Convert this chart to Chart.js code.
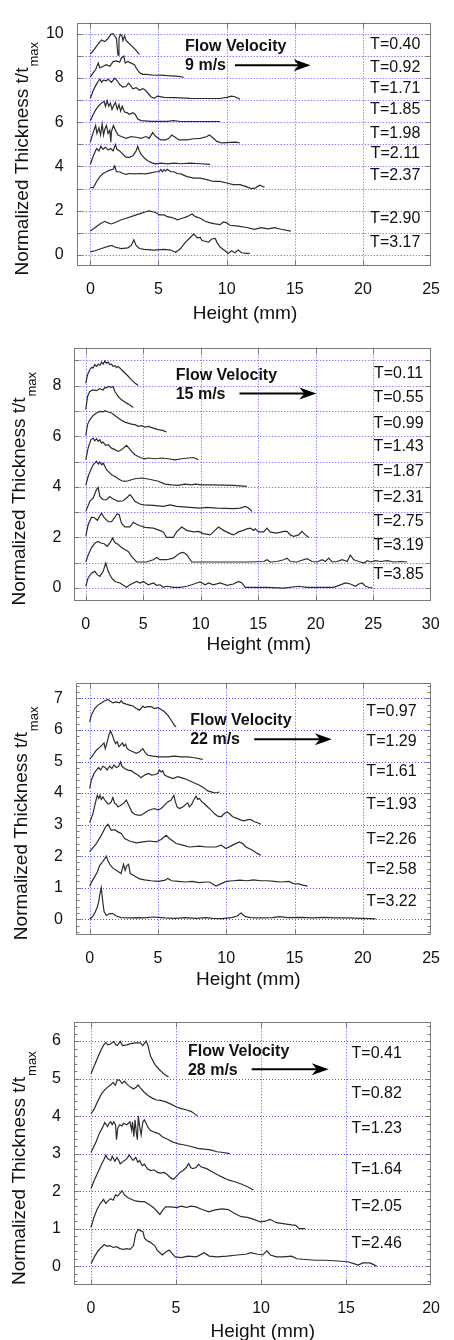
<!DOCTYPE html>
<html><head><meta charset="utf-8">
<script src="https://cdn.jsdelivr.net/npm/chart.js@4.4.1/dist/chart.umd.min.js"></script>
<style>
html,body{margin:0;padding:0;background:#fff;}
body{width:454px;height:1340px;position:relative;overflow:hidden;}
canvas{position:absolute;left:0;}
</style></head><body>
<canvas id="c1"></canvas><canvas id="c2"></canvas><canvas id="c3"></canvas><canvas id="c4"></canvas>
<script>
// ---------- Panel 1: 9 m/s ----------
const v9Speed = '9 m/s';
const v9XTicks = [0,5,10,15,20,25];
const v9YTicks = [0,2,4,6,8,10];
const v9Labels = ['T=0.40','T=0.92','T=1.71','T=1.85','T=1.98','T=2.11','T=2.37','T=2.90','T=3.17'];
const v9_T040 = [[0,9.08],[0.3,9.3],[0.58,9.54],[0.82,9.71],[1.06,9.64],[1.3,9.78],[1.5,9.97],[1.67,10.0],[1.79,9.9],[1.91,9.78],[2.03,9.03],[2.1,9.75],[2.2,9.97],[2.32,9.9],[2.39,9.68],[2.51,9.9],[2.63,9.68],[2.75,9.61],[3.0,9.47],[3.24,9.32],[3.6,9.06]];
const v9_T092 = [[0,8.05],[0.22,8.24],[0.39,8.38],[0.58,8.67],[0.7,8.45],[0.94,8.53],[1.18,8.6],[1.43,8.53],[1.67,8.74],[1.91,8.77],[2.15,8.71],[2.27,8.89],[2.46,8.99],[2.56,8.67],[2.75,8.74],[3.0,8.67],[3.24,8.6],[3.36,8.45],[3.6,8.24],[3.84,8.16],[4.08,8.16],[4.69,8.12],[5.2,8.13],[5.65,8.1],[6.3,8.08],[6.86,8.03]];
const v9_T171 = [[0,7.08],[0.22,7.44],[0.46,7.73],[0.58,7.85],[0.7,7.95],[0.82,7.8],[0.94,7.9],[1.18,7.87],[1.3,7.95],[1.55,7.8],[1.79,7.99],[1.98,7.87],[2.15,7.7],[2.39,7.59],[2.63,7.62],[2.8,7.76],[2.95,7.66],[3.12,7.51],[3.36,7.56],[3.6,7.44],[3.84,7.51],[4.01,7.47],[4.2,7.33],[4.44,7.15],[4.69,7.08],[4.93,7.18],[5.41,7.12],[6.14,7.11],[7.34,7.08],[8.55,7.07],[9.52,7.07],[10.0,7.12],[10.36,7.18],[10.6,7.15],[10.97,7.04]];
const v9_T185 = [[0,6.07],[0.34,6.5],[0.58,6.72],[0.82,6.86],[1.01,6.94],[1.11,6.72],[1.23,6.97],[1.35,6.72],[1.47,6.86],[1.59,6.58],[1.74,6.79],[1.84,6.89],[1.98,6.58],[2.1,6.79],[2.22,6.5],[2.34,6.72],[2.51,6.46],[2.68,6.43],[2.87,6.36],[3.12,6.43],[3.29,6.36],[3.48,6.14],[3.72,6.07],[4.44,6.04],[5.65,6.04],[6.1,6.07],[6.62,6.03],[7.58,6.03],[8.55,6.03],[9.52,6.03]];
const v9_T198 = [[0,5.1],[0.22,5.56],[0.39,5.85],[0.48,5.49],[0.63,5.74],[0.75,5.42],[0.87,5.92],[0.97,5.42],[1.06,5.68],[1.18,5.85],[1.3,5.49],[1.43,5.64],[1.5,5.1],[1.55,5.56],[1.69,5.85],[1.84,5.64],[2.03,5.42],[2.27,5.35],[2.63,5.27],[3.0,5.35],[3.36,5.32],[3.72,5.27],[4.08,5.35],[4.32,5.27],[4.57,5.53],[4.81,5.35],[5.17,5.2],[5.53,5.2],[5.77,5.27],[5.97,5.42],[6.14,5.35],[6.5,5.2],[7.1,5.2],[7.58,5.25],[8.07,5.27],[8.55,5.35],[8.74,5.42],[9.03,5.27],[9.28,5.13],[9.64,5.06],[10.24,5.09],[10.72,5.1],[10.97,5.06]];
const v9_T211 = [[0,4.09],[0.22,4.48],[0.46,4.81],[0.63,4.7],[0.77,4.91],[0.94,4.77],[1.11,4.87],[1.3,4.74],[1.5,4.81],[1.67,4.7],[1.84,4.99],[1.96,4.77],[2.15,4.7],[2.39,4.55],[2.63,4.41],[2.87,4.41],[3.12,4.48],[3.36,4.7],[3.48,4.91],[3.6,4.7],[3.72,4.55],[3.96,4.38],[4.2,4.26],[4.57,4.15],[4.81,4.12],[5.17,4.15],[5.65,4.12],[6.14,4.15],[6.62,4.12],[7.34,4.15],[8.07,4.12],[8.79,4.09]];
const v9_T237 = [[0,3.06],[0.22,3.03],[0.46,3.32],[0.7,3.54],[0.94,3.68],[1.18,3.76],[1.43,3.83],[1.67,3.87],[1.79,4.02],[1.91,3.76],[2.15,3.76],[2.39,3.68],[2.63,3.64],[2.87,3.68],[3.24,3.66],[3.72,3.68],[4.08,3.66],[4.44,3.71],[4.81,3.76],[5.05,3.76],[5.17,3.86],[5.29,3.76],[5.41,3.86],[5.53,3.8],[5.65,3.87],[5.89,3.76],[6.14,3.76],[6.38,3.68],[6.62,3.66],[7.1,3.54],[7.58,3.47],[8.07,3.47],[8.55,3.4],[9.03,3.32],[9.52,3.32],[10.0,3.25],[10.48,3.18],[10.97,3.18],[11.33,3.11],[11.81,3.0],[12.1,3.02],[12.42,3.15],[12.78,3.06]];
const v9_T290 = [[0,1.08],[0.34,1.23],[0.7,1.4],[1.06,1.52],[1.3,1.45],[1.55,1.4],[1.91,1.49],[2.27,1.59],[2.63,1.66],[3.0,1.73],[3.36,1.81],[3.72,1.88],[4.08,1.95],[4.32,1.99],[4.57,1.95],[4.81,1.92],[5.05,1.81],[5.41,1.81],[5.65,1.73],[6.01,1.69],[6.38,1.59],[6.74,1.66],[7.1,1.73],[7.46,1.85],[7.71,1.73],[8.07,1.66],[8.43,1.52],[8.79,1.45],[9.16,1.4],[9.52,1.37],[9.76,1.49],[10.0,1.45],[10.24,1.34],[10.85,1.3],[11.57,1.23],[12.05,1.16],[12.54,1.23],[13.02,1.18],[13.5,1.23],[13.99,1.16],[14.71,1.08]];
const v9_T317 = [[0,0.14],[0.34,0.19],[0.82,0.29],[1.3,0.39],[1.59,0.43],[1.79,0.36],[2.27,0.29],[2.75,0.32],[3.0,0.43],[3.12,0.58],[3.19,0.68],[3.36,0.43],[3.6,0.29],[3.96,0.25],[4.69,0.22],[5.41,0.25],[5.89,0.22],[6.26,0.12],[6.62,0.29],[6.98,0.58],[7.34,0.79],[7.58,0.94],[7.71,0.87],[7.83,0.77],[8.07,0.79],[8.19,0.65],[8.43,0.62],[8.67,0.58],[8.91,0.72],[9.16,0.75],[9.28,0.58],[9.52,0.36],[9.88,0.19],[10.12,0.07],[10.36,0.19],[10.6,0.1],[10.85,0.22],[11.09,0.1],[11.45,0.07],[11.69,0.07]];
const v9Series = [v9_T040,v9_T092,v9_T171,v9_T185,v9_T198,v9_T211,v9_T237,v9_T290,v9_T317];

// ---------- Panel 2: 15 m/s ----------
const v15Speed = '15 m/s';
const v15XTicks = [0,5,10,15,20,25,30];
const v15YTicks = [0,2,4,6,8];
const v15Labels = ['T=0.11','T=0.55','T=0.99','T=1.43','T=1.87','T=2.31','T=2.75','T=3.19','T=3.85'];
const v15_T011 = [[0,8.1],[0.15,8.43],[0.35,8.63],[0.49,8.72],[0.64,8.7],[0.78,8.83],[0.93,8.76],[1.08,8.85],[1.22,8.8],[1.37,8.93],[1.51,8.85],[1.66,8.98],[1.8,8.89],[1.95,8.93],[2.09,8.83],[2.24,8.85],[2.38,8.76],[2.53,8.8],[2.67,8.72],[2.82,8.76],[3.11,8.63],[3.4,8.5],[3.69,8.37],[3.98,8.23],[4.27,8.1],[4.56,8.01]];
const v15_T055 = [[0,7.05],[0.15,7.57],[0.35,7.77],[0.64,7.83],[0.93,7.8],[1.22,7.88],[1.51,7.83],[1.66,7.93],[1.8,7.91],[1.95,7.97],[2.24,7.93],[2.38,7.97],[2.53,7.77],[2.82,7.57],[3.11,7.44],[3.4,7.35],[3.69,7.27],[4.13,7.14]];
const v15_T099 = [[0,6.04],[0.15,6.46],[0.35,6.65],[0.64,6.82],[0.93,6.92],[1.22,6.98],[1.51,6.96],[1.66,7.01],[1.95,6.96],[2.24,6.92],[2.53,6.82],[2.82,6.72],[3.11,6.63],[3.4,6.56],[3.69,6.52],[3.98,6.48],[4.27,6.46],[4.56,6.39],[4.85,6.42],[5.15,6.36],[5.44,6.39],[5.87,6.32],[6.31,6.26],[6.74,6.22],[7.03,6.17]];
const v15_T143 = [[0,5.07],[0.2,5.53],[0.44,5.86],[0.64,5.93],[0.78,5.82],[0.93,5.9],[1.08,5.8],[1.22,5.86],[1.37,5.73],[1.51,5.77],[1.72,5.64],[1.95,5.67],[2.24,5.53],[2.53,5.47],[2.82,5.4],[3.11,5.47],[3.34,5.56],[3.55,5.64],[3.75,5.53],[3.98,5.4],[4.27,5.27],[4.56,5.2],[4.85,5.14],[5.15,5.11],[5.44,5.14],[6.02,5.11],[6.6,5.14],[7.18,5.11],[7.76,5.07],[8.34,5.11],[8.92,5.14],[9.36,5.16],[9.8,5.07]];
const v15_T187 = [[0,4.06],[0.2,4.41],[0.44,4.68],[0.64,4.87],[0.78,4.94],[0.93,5.01],[1.08,4.9],[1.22,4.98],[1.37,4.87],[1.51,4.94],[1.66,4.81],[1.8,4.68],[1.95,4.61],[2.24,4.48],[2.53,4.41],[2.82,4.32],[3.11,4.24],[3.4,4.22],[3.69,4.24],[3.98,4.28],[4.27,4.32],[4.85,4.35],[5.29,4.32],[5.73,4.28],[6.31,4.22],[6.89,4.11],[7.47,4.08],[8.05,4.06],[8.63,4.11],[9.22,4.08],[9.51,4.11],[10.09,4.08],[11.1,4.08],[12.85,4.06],[14.0,4.02]];
const v15_T231 = [[0,3.03],[0.35,3.43],[0.64,3.56],[0.93,3.89],[1.08,3.98],[1.22,3.62],[1.51,3.49],[1.8,3.49],[2.09,3.62],[2.24,3.56],[2.53,3.49],[2.82,3.43],[3.26,3.45],[3.55,3.56],[3.84,3.69],[3.98,3.62],[4.27,3.43],[4.71,3.32],[5.0,3.29],[5.87,3.27],[6.74,3.23],[7.33,3.29],[7.91,3.23],[8.78,3.2],[9.94,3.16],[10.52,3.19],[11.4,3.16],[12.85,3.14],[13.43,3.16],[13.87,3.23],[14.16,3.16],[14.45,3.03]];
const v15_T275 = [[0,2.04],[0.2,2.5],[0.5,2.8],[0.75,2.78],[1.0,2.68],[1.37,2.96],[1.6,2.78],[1.95,2.62],[2.24,2.62],[2.53,2.8],[2.73,2.94],[2.9,2.9],[3.11,2.55],[3.4,2.42],[3.84,2.42],[4.13,2.6],[4.42,2.52],[4.71,2.46],[5.15,2.4],[5.87,2.37],[6.3,2.3],[6.74,2.22],[7.03,2.0],[7.6,2.0],[7.9,2.22],[8.34,2.41],[8.78,2.28],[9.36,2.22],[9.8,2.24],[10.23,2.15],[10.81,2.1],[11.1,2.22],[11.54,2.41],[11.98,2.28],[12.56,2.15],[12.85,2.1],[13.28,2.22],[13.72,2.28],[14.01,2.34],[14.3,2.37],[14.6,2.28],[14.74,2.34],[15.03,2.22],[15.47,2.22],[15.76,2.37],[16.05,2.21],[16.63,2.17],[17.21,2.24],[17.5,2.24],[17.79,2.1],[18.08,2.04],[18.52,2.1],[18.8,2.24],[19.1,2.1],[19.4,2.0]];
const v15_T319 = [[0,1.03],[0.2,1.3],[0.5,1.6],[0.8,1.78],[1.08,1.84],[1.3,1.78],[1.6,1.75],[1.85,1.65],[2.1,1.78],[2.33,1.98],[2.53,1.8],[2.82,1.72],[3.11,1.6],[3.4,1.52],[3.69,1.45],[3.98,1.25],[4.42,1.03],[5.29,1.03],[5.87,1.12],[6.16,1.21],[6.45,1.12],[7.03,1.12],[7.6,1.18],[8.2,1.38],[8.49,1.41],[8.78,1.32],[9.22,1.03],[10.0,1.03],[12.0,1.03],[14.0,1.03],[15.5,1.05],[15.76,1.12],[16.05,1.03],[16.63,1.05],[17.21,1.12],[17.5,1.18],[17.79,1.05],[18.37,1.03],[18.66,1.08],[19.24,1.16],[19.68,1.05],[20.12,1.03],[20.55,1.12],[20.84,1.05],[21.13,1.18],[21.42,1.03],[21.86,1.05],[22.3,1.12],[22.73,1.05],[23.0,1.3],[23.31,1.12],[23.75,1.05],[24.19,0.99],[24.48,1.08],[24.77,1.03],[25.2,1.08],[25.64,1.05],[26.22,1.08],[26.8,1.03],[27.38,1.05],[27.96,1.03]];
const v15_T385 = [[0,0.07],[0.2,0.4],[0.49,0.59],[0.78,0.66],[0.99,0.53],[1.22,0.46],[1.51,0.66],[1.74,0.99],[1.95,0.66],[2.24,0.4],[2.53,0.26],[2.97,0.2],[3.4,0.07],[3.55,0.03],[3.84,0.13],[4.42,0.26],[4.71,0.2],[5.0,0.26],[5.44,0.13],[5.87,0.2],[6.16,0.11],[6.45,0.13],[6.74,0.03],[7.03,0.07],[7.62,0.03],[8.2,0.03],[8.78,0.07],[9.22,0.13],[9.65,0.2],[9.94,0.24],[10.38,0.13],[10.67,0.2],[11.1,0.13],[11.69,0.2],[12.27,0.11],[12.85,0.16],[13.28,0.26],[13.58,0.2],[13.87,0.03],[14.59,0.03],[15.76,0.03],[17.21,0.0],[18.52,0.07],[19.24,0.03],[20.41,0.03],[21.57,0.03],[22.59,0.2],[23.02,0.16],[23.46,0.07],[23.75,0.16],[24.04,0.2],[24.33,0.07],[24.62,0.03],[24.91,0.0]];
const v15Series = [v15_T011,v15_T055,v15_T099,v15_T143,v15_T187,v15_T231,v15_T275,v15_T319,v15_T385];

// ---------- Panel 3: 22 m/s ----------
const v22Speed = '22 m/s';
const v22XTicks = [0,5,10,15,20,25];
const v22YTicks = [0,1,2,3,4,5,6,7];
const v22Labels = ['T=0.97','T=1.29','T=1.61','T=1.93','T=2.26','T=2.58','T=3.22'];
const v22_T097 = [[0,6.26],[0.12,6.47],[0.37,6.68],[0.61,6.79],[0.85,6.86],[1.1,6.93],[1.34,6.97],[1.46,6.93],[1.7,6.86],[1.95,6.89],[2.19,6.86],[2.31,6.93],[2.43,6.86],[2.68,6.82],[2.92,6.79],[3.17,6.76],[3.41,6.68],[3.65,6.63],[3.9,6.76],[4.02,6.71],[4.26,6.74],[4.5,6.74],[4.75,6.68],[4.99,6.71],[5.24,6.65],[5.48,6.58],[5.72,6.47],[5.97,6.31],[6.21,6.15],[6.33,6.1]];
const v22_T129 = [[0,5.07],[0.24,5.2],[0.49,5.36],[0.73,5.45],[0.9,5.52],[1.05,5.59],[1.14,5.41],[1.29,5.63],[1.41,5.84],[1.53,5.97],[1.66,5.84],[1.78,5.68],[1.9,5.57],[2.02,5.63],[2.14,5.47],[2.26,5.52],[2.39,5.59],[2.51,5.49],[2.63,5.55],[2.75,5.41],[2.92,5.36],[3.17,5.31],[3.41,5.26],[3.65,5.31],[3.9,5.41],[4.07,5.28],[4.26,5.2],[4.63,5.17],[5.11,5.15],[5.72,5.15],[6.21,5.17],[6.7,5.15],[7.18,5.15],[7.67,5.12],[8.28,5.07]];
const v22_T161 = [[0,4.15],[0.12,4.41],[0.32,4.62],[0.49,4.73],[0.66,4.81],[0.8,4.73],[0.97,4.85],[1.14,4.81],[1.27,4.73],[1.46,4.85],[1.63,4.78],[1.78,4.89],[1.95,4.81],[2.12,4.85],[2.26,4.99],[2.36,4.85],[2.56,4.78],[2.8,4.73],[3.04,4.71],[3.29,4.64],[3.53,4.57],[3.77,4.49],[4.02,4.57],[4.31,4.62],[4.55,4.57],[4.8,4.59],[4.99,4.62],[5.11,4.73],[5.24,4.67],[5.36,4.71],[5.48,4.57],[5.72,4.52],[6.09,4.46],[6.45,4.52],[6.7,4.49],[6.94,4.46],[7.3,4.39],[7.67,4.32],[8.04,4.25],[8.4,4.15],[8.64,4.07],[8.89,4.04],[9.13,4.01],[9.37,4.01],[9.5,4.04]];
const v22_T193 = [[0,3.06],[0.24,3.35],[0.41,3.67],[0.56,3.93],[0.66,3.83],[0.75,3.93],[0.85,3.8],[0.97,3.88],[1.1,3.78],[1.22,3.72],[1.34,3.65],[1.46,3.67],[1.58,3.72],[1.7,3.86],[1.83,3.67],[1.95,3.65],[2.07,3.56],[2.31,3.62],[2.51,3.69],[2.68,3.78],[2.8,3.67],[2.92,3.56],[3.09,3.4],[3.29,3.33],[3.53,3.3],[3.77,3.3],[4.02,3.37],[4.26,3.44],[4.5,3.48],[4.75,3.51],[4.99,3.46],[5.24,3.51],[5.48,3.62],[5.72,3.72],[5.97,3.78],[6.16,3.93],[6.28,3.72],[6.4,3.56],[6.57,3.51],[6.82,3.56],[7.06,3.65],[7.18,3.69],[7.3,3.56],[7.48,3.65],[7.62,3.78],[7.79,3.9],[7.91,3.8],[8.04,3.83],[8.21,3.72],[8.4,3.67],[8.64,3.56],[8.89,3.46],[9.13,3.35],[9.37,3.27],[9.62,3.25],[9.86,3.35],[10.06,3.4],[10.23,3.35],[10.47,3.25],[10.84,3.19],[11.08,3.14],[11.32,3.12],[11.57,3.16],[11.81,3.16],[12.05,3.09],[12.3,3.06],[12.54,3.01]];
const v22_T226 = [[0,2.14],[0.49,2.4],[0.85,2.66],[1.17,2.93],[1.34,3.01],[1.58,2.82],[1.83,2.84],[2.07,2.77],[2.31,2.72],[2.56,2.56],[2.92,2.48],[3.41,2.42],[3.9,2.45],[4.38,2.48],[4.87,2.45],[5.23,2.53],[5.6,2.66],[5.84,2.56],[6.33,2.4],[6.82,2.35],[7.3,2.29],[8.04,2.32],[8.52,2.29],[9.25,2.29],[9.62,2.35],[9.98,2.24],[10.47,2.35],[10.96,2.45],[11.2,2.4],[11.44,2.29],[11.93,2.19],[12.3,2.08],[12.54,2.03]];
const v22_T258 = [[0,1.05],[0.17,1.2],[0.37,1.35],[0.56,1.5],[0.73,1.7],[0.97,1.83],[1.22,2.0],[1.34,1.85],[1.46,1.75],[1.7,1.62],[1.95,1.55],[2.14,1.5],[2.3,1.45],[2.48,1.74],[2.6,1.55],[2.72,1.7],[2.85,1.74],[2.97,1.45],[3.17,1.4],[3.41,1.34],[3.65,1.28],[4.02,1.25],[4.5,1.22],[5.0,1.2],[5.48,1.23],[5.72,1.29],[6.0,1.22],[6.5,1.2],[7.0,1.18],[7.5,1.2],[8.0,1.16],[8.5,1.18],[8.77,1.18],[9.25,1.05],[9.6,1.12],[10.0,1.2],[10.5,1.22],[11.0,1.24],[11.5,1.22],[12.0,1.25],[12.5,1.22],[13.0,1.22],[13.5,1.2],[14.0,1.18],[14.6,1.2],[14.9,1.13],[15.3,1.12],[15.6,1.08],[15.95,1.05]];
const v22_T322 = [[0,0.0],[0.24,0.1],[0.41,0.23],[0.56,0.39],[0.66,0.55],[0.75,0.8],[0.85,1.0],[0.95,0.6],[1.05,0.25],[1.22,0.12],[1.46,0.18],[1.7,0.18],[1.95,0.1],[2.3,0.05],[3.0,0.04],[3.6,0.05],[4.0,0.04],[4.6,0.07],[5.0,0.06],[5.5,0.04],[6.2,0.03],[7.0,0.05],[7.8,0.03],[8.5,0.05],[9.0,0.03],[9.7,0.02],[10.4,0.05],[10.8,0.1],[11.08,0.2],[11.4,0.08],[11.8,0.05],[12.5,0.04],[13.4,0.05],[13.9,0.08],[14.5,0.05],[15.5,0.06],[16.3,0.04],[17.2,0.06],[18.0,0.04],[19.0,0.04],[19.8,0.03],[20.5,0.02],[20.94,0.01]];
const v22Series = [v22_T097,v22_T129,v22_T161,v22_T193,v22_T226,v22_T258,v22_T322];

// ---------- Panel 4: 28 m/s ----------
const v28Speed = '28 m/s';
const v28XTicks = [0,5,10,15,20];
const v28YTicks = [0,1,2,3,4,5,6];
const v28Labels = ['T=0.41','T=0.82','T=1.23','T=1.64','T=2.05','T=2.46'];
const v28_T041 = [[0,5.13],[0.3,5.46],[0.55,5.72],[0.75,5.9],[0.87,5.96],[1.0,5.9],[1.15,5.92],[1.34,5.99],[1.45,5.9],[1.55,5.88],[1.72,5.99],[1.85,5.88],[2.1,5.9],[2.35,5.93],[2.65,5.95],[2.9,5.95],[3.05,5.88],[3.24,6.0],[3.35,5.88],[3.5,5.6],[3.75,5.38],[4.0,5.25],[4.3,5.12],[4.56,5.04]];
const v28_T082 = [[0,4.06],[0.2,4.2],[0.4,4.4],[0.6,4.58],[0.8,4.7],[1.0,4.78],[1.15,4.83],[1.3,4.9],[1.43,4.82],[1.55,4.97],[1.7,4.95],[1.82,4.87],[1.97,4.93],[2.1,4.86],[2.3,4.78],[2.5,4.72],[2.65,4.77],[2.77,4.83],[2.9,4.75],[3.1,4.65],[3.35,4.55],[3.6,4.48],[3.85,4.43],[4.1,4.42],[4.4,4.38],[4.7,4.32],[5.0,4.25],[5.3,4.2],[5.6,4.17],[5.9,4.12],[6.1,4.06],[6.27,4.0]];
const v28_T123 = [[0,3.03],[0.3,3.32],[0.49,3.54],[0.68,3.7],[0.81,3.83],[0.97,3.72],[1.06,3.81],[1.16,3.85],[1.25,3.77],[1.34,3.85],[1.44,3.77],[1.5,3.37],[1.57,3.68],[1.69,3.77],[1.82,3.74],[1.91,3.81],[2.1,3.77],[2.2,3.81],[2.29,3.85],[2.39,3.63],[2.44,3.85],[2.52,3.45],[2.59,3.9],[2.67,3.54],[2.73,3.37],[2.78,4.01],[2.86,3.72],[2.95,3.5],[3.05,3.85],[3.14,3.9],[3.24,3.81],[3.33,3.72],[3.47,3.63],[3.62,3.59],[3.81,3.56],[4.0,3.53],[4.19,3.45],[4.38,3.41],[4.56,3.37],[4.75,3.32],[4.94,3.29],[5.13,3.26],[5.51,3.23],[5.89,3.19],[6.27,3.14],[6.65,3.12],[7.03,3.1],[7.41,3.05],[7.78,3.03],[8.16,3.0]];
const v28_T164 = [[0,2.07],[0.2,2.3],[0.4,2.5],[0.6,2.7],[0.75,2.83],[0.87,2.96],[0.97,2.87],[1.16,2.82],[1.25,2.93],[1.4,2.8],[1.53,2.9],[1.63,2.82],[1.72,2.73],[1.91,2.8],[2.1,2.86],[2.25,2.96],[2.39,2.87],[2.48,2.82],[2.63,2.9],[2.76,2.77],[2.86,2.82],[3.01,2.68],[3.14,2.72],[3.33,2.59],[3.52,2.55],[3.71,2.57],[3.9,2.5],[4.09,2.48],[4.28,2.5],[4.47,2.45],[4.66,2.36],[4.85,2.32],[5.04,2.4],[5.23,2.5],[5.42,2.55],[5.6,2.63],[5.74,2.74],[5.86,2.63],[5.99,2.6],[6.18,2.63],[6.33,2.72],[6.46,2.65],[6.8,2.6],[7.12,2.52],[7.6,2.4],[8.07,2.3],[8.45,2.25],[8.83,2.19],[9.2,2.12],[9.55,2.03]];
const v28_T205 = [[0,1.03],[0.17,1.3],[0.36,1.52],[0.55,1.67],[0.74,1.78],[0.87,1.67],[1.02,1.75],[1.16,1.8],[1.31,1.76],[1.44,1.9],[1.57,1.87],[1.82,2.01],[1.97,1.9],[2.2,1.82],[2.4,1.78],[2.6,1.74],[2.9,1.72],[3.14,1.72],[3.4,1.65],[3.7,1.55],[4.05,1.38],[4.2,1.48],[4.38,1.58],[4.7,1.58],[5.04,1.56],[5.3,1.6],[5.6,1.57],[5.9,1.6],[6.17,1.58],[6.5,1.52],[6.93,1.45],[7.3,1.5],[7.7,1.53],[8.07,1.51],[8.4,1.42],[8.83,1.32],[9.2,1.3],[9.58,1.25],[9.96,1.18],[10.25,1.2],[10.53,1.25],[10.9,1.16],[11.2,1.14],[11.48,1.12],[11.8,1.1],[12.05,1.09],[12.23,1.0],[12.6,1.0]];
const v28_T246 = [[0,0.07],[0.2,0.25],[0.4,0.4],[0.6,0.5],[0.78,0.58],[0.95,0.53],[1.1,0.55],[1.3,0.5],[1.5,0.52],[1.7,0.47],[1.9,0.45],[2.1,0.47],[2.3,0.45],[2.5,0.55],[2.62,0.85],[2.77,0.98],[2.9,0.95],[3.05,0.92],[3.15,0.75],[3.3,0.68],[3.45,0.65],[3.6,0.6],[3.75,0.55],[3.9,0.42],[4.05,0.36],[4.2,0.3],[4.4,0.38],[4.6,0.43],[4.75,0.35],[4.95,0.25],[5.3,0.23],[5.7,0.27],[6.2,0.25],[6.65,0.36],[6.95,0.27],[7.4,0.25],[8.0,0.27],[8.6,0.3],[9.1,0.32],[9.4,0.36],[9.8,0.32],[10.1,0.3],[10.34,0.41],[10.55,0.3],[10.9,0.25],[11.3,0.25],[11.8,0.27],[12.1,0.2],[12.6,0.18],[13.2,0.16],[13.8,0.16],[14.5,0.14],[15.1,0.12],[15.45,0.07],[15.7,0.03],[16.0,0.09],[16.4,0.09],[16.68,0.03],[16.8,0.0]];
const v28Series = [v28_T041,v28_T082,v28_T123,v28_T164,v28_T205,v28_T246];

// ---------- layout (positions, sizes, styles) ----------
const FONT = "'Liberation Sans', Arial, Helvetica, sans-serif";
const panels = [
  { canvas:'c1', top:0, h:330, area:{l:76.7,r:435,t:12.7,b:266}, xr:[-1,25], yr:[-0.5,10.5],
    xTicks:v9XTicks, yTicks:v9YTicks, gridX:[0,5,10,15,20], minor:false, series:v9Series,
    labels:v9Labels, labelX:22.37, labelY:[9.49,8.48,7.5,6.58,5.49,4.58,3.58,1.63,0.55],
    speed:v9Speed, flow:{x:6.95, y1:9.42, y2:8.57, ax1:10.61, ax2:16.16, ay:8.57}, xTitleX:245, xTitleDy:52.5 },
  { canvas:'c2', top:320, h:340, area:{l:74.3,r:430.7,t:347.7,b:600.7}, xr:[-1,30], yr:[-0.5,9.5],
    xTicks:v15XTicks, yTicks:v15YTicks, gridX:[0,5,10,15,20,25], minor:false, series:v15Series,
    labels:v15Labels, labelX:27.2, labelY:[8.46,7.51,6.5,5.58,4.59,3.56,2.61,1.67,0.55],
    speed:v15Speed, flow:{x:7.82, y1:8.39, y2:7.64, ax1:13.37, ax2:20.05, ay:7.69}, xTitleX:258.7, xTitleDy:49.5 },
  { canvas:'c3', top:650, h:340, area:{l:76,r:432.7,t:682.7,b:935}, xr:[-1,25], yr:[-0.5,7.5],
    xTicks:v22XTicks, yTicks:v22YTicks, gridX:[0,5,10,15,20], minor:true, series:v22Series,
    labels:v22Labels, labelX:22.1, labelY:[6.58,5.63,4.67,3.62,2.54,1.58,0.55],
    speed:v22Speed, flow:{x:7.36, y1:6.31, y2:5.70, ax1:12.05, ax2:17.73, ay:5.71}, xTitleX:248.3, xTitleDy:49.5 },
  { canvas:'c4', top:980, h:360, area:{l:74,r:444.3,t:1022.3,b:1285}, xr:[-1,20], yr:[-0.5,6.5],
    xTicks:v28XTicks, yTicks:v28YTicks, gridX:[0,5,10,15], minor:true, series:v28Series,
    labels:v28Labels, labelX:16.8, labelY:[5.66,4.59,3.68,2.58,1.6,0.61],
    speed:v28Speed, flow:{x:5.70, y1:5.72, y2:5.22, ax1:9.45, ax2:13.98, ay:5.25}, xTitleX:262.7, xTitleDy:51.7 }
];

function makeDecor(P) {
  return {
    id: 'decor_' + P.canvas,
    beforeDatasetsDraw(chart) {
      const {ctx, chartArea:a, scales:{x, y}} = chart;
      ctx.save();
      ctx.strokeStyle = '#5252ff'; ctx.lineWidth = 1; ctx.setLineDash([1,2]);
      ctx.beginPath();
      P.gridX.forEach(v => { const px = Math.round(x.getPixelForValue(v)) + 0.5; ctx.moveTo(px, a.top); ctx.lineTo(px, a.bottom); });
      for (let v = Math.ceil(P.yr[0]); v <= Math.floor(P.yr[1]); v++) {
        const py = Math.round(y.getPixelForValue(v)) + 0.5; ctx.moveTo(a.left, py); ctx.lineTo(a.right, py);
      }
      ctx.stroke();
      ctx.restore();
    },
    afterDatasetsDraw(chart) {
      const {ctx, chartArea:a, scales:{x, y}} = chart;
      ctx.save();
      ctx.setLineDash([]);
      ctx.strokeStyle = '#7a7a7a'; ctx.lineWidth = 1;
      const L = Math.round(a.left) + 0.5, R = Math.round(a.right) - 0.5, T = Math.round(a.top) + 0.5, B = Math.round(a.bottom) - 0.5;
      ctx.strokeRect(L, T, R - L, B - T);
      ctx.beginPath();
      P.xTicks.forEach(v => {
        if (v <= P.xr[0] || v >= P.xr[1]) return;
        const px = Math.round(x.getPixelForValue(v)) + 0.5;
        ctx.moveTo(px, T); ctx.lineTo(px, T + 5);
        ctx.moveTo(px, B); ctx.lineTo(px, B - 5);
      });
      const k0 = Math.ceil(P.yr[0] * 5), k1 = Math.floor(P.yr[1] * 5);
      for (let k = k0; k <= k1; k++) {
        const major = k % 5 === 0;
        if (!major && !P.minor) continue;
        const len = major ? 5 : 3;
        const py = Math.round(y.getPixelForValue(k / 5)) + 0.5;
        ctx.moveTo(L, py); ctx.lineTo(L + len, py);
        ctx.moveTo(R, py); ctx.lineTo(R - len, py);
      }
      ctx.stroke();

      // time labels
      ctx.fillStyle = '#111';
      ctx.font = '16px ' + FONT;
      ctx.textAlign = 'center'; ctx.textBaseline = 'middle';
      P.labels.forEach((t, i) => ctx.fillText(t, x.getPixelForValue(P.labelX), y.getPixelForValue(P.labelY[i])));

      // flow velocity annotation
      ctx.font = 'bold 16px ' + FONT;
      ctx.textAlign = 'left';
      const fx = x.getPixelForValue(P.flow.x);
      ctx.fillText('Flow Velocity', fx, y.getPixelForValue(P.flow.y1));
      ctx.fillText(P.speed, fx, y.getPixelForValue(P.flow.y2));
      const ax1 = x.getPixelForValue(P.flow.ax1), ax2 = x.getPixelForValue(P.flow.ax2), ay = y.getPixelForValue(P.flow.ay);
      ctx.strokeStyle = '#000'; ctx.fillStyle = '#000'; ctx.lineWidth = 2;
      ctx.beginPath(); ctx.moveTo(ax1, ay); ctx.lineTo(ax2 - 12, ay); ctx.stroke();
      ctx.beginPath();
      ctx.moveTo(ax2, ay); ctx.lineTo(ax2 - 17, ay - 6); ctx.lineTo(ax2 - 12, ay); ctx.lineTo(ax2 - 17, ay + 6); ctx.closePath(); ctx.fill();

      // x title
      ctx.fillStyle = '#111';
      ctx.font = '19px ' + FONT;
      ctx.textAlign = 'center'; ctx.textBaseline = 'alphabetic';
      ctx.fillText('Height (mm)', P.xTitleX, a.bottom + P.xTitleDy);

      // y title with subscript
      const cx = a.left - 55, cy = (a.top + a.bottom) / 2 + 15;
      const main = 'Normalized Thickness t/t', sub = 'max';
      ctx.font = '19px ' + FONT; const wm = ctx.measureText(main).width;
      ctx.font = '13px ' + FONT; const ws = ctx.measureText(sub).width;
      const tot = wm + ws;
      ctx.translate(cx, cy); ctx.rotate(-Math.PI / 2);
      ctx.textAlign = 'left';
      ctx.font = '19px ' + FONT; ctx.fillText(main, -tot / 2, 6);
      ctx.font = '13px ' + FONT; ctx.fillText(sub, -tot / 2 + wm + 1, 16.5);
      ctx.restore();
    }
  };
}

function makeChart(P) {
  const cv = document.getElementById(P.canvas);
  cv.width = 454; cv.height = P.h;
  cv.style.top = P.top + 'px'; cv.style.width = '454px'; cv.style.height = P.h + 'px';
  const A = P.area;
  const padTop = A.t - P.top, padRight = 454 - A.r, yW = A.l, xH = P.h - (A.b - P.top);
  const tickFont = {family: FONT, size: 16};
  new Chart(cv, {
    type: 'line',
    data: { datasets: P.series.map(s => ({
      data: s.map(p => ({x: p[0], y: p[1]})),
      borderColor: '#2c2c2c', borderWidth: 1.2, pointRadius: 0, fill: false, tension: 0
    })) },
    options: {
      responsive: false, animation: false, events: [],
      layout: { padding: { left: 0, right: padRight, top: padTop, bottom: 0 } },
      plugins: { legend: {display: false}, tooltip: {enabled: false} },
      scales: {
        x: { type: 'linear', min: P.xr[0], max: P.xr[1],
             grid: {display: false, drawTicks: false, tickLength: 0}, border: {display: false},
             ticks: { padding: 14, font: tickFont, color: '#111', autoSkip: false, maxRotation: 0, callback: v => String(v) },
             afterBuildTicks: s => { s.ticks = P.xTicks.map(v => ({value: v})); },
             afterFit: s => { s.height = xH; } },
        y: { type: 'linear', min: P.yr[0], max: P.yr[1],
             grid: {display: false, drawTicks: false, tickLength: 0}, border: {display: false},
             ticks: { padding: 13, font: tickFont, color: '#111', autoSkip: false, callback: v => String(v) },
             afterBuildTicks: s => { s.ticks = P.yTicks.map(v => ({value: v})); },
             afterFit: s => { s.width = yW; } }
      }
    },
    plugins: [makeDecor(P)]
  });
}
panels.forEach(makeChart);
</script>
</body></html>
